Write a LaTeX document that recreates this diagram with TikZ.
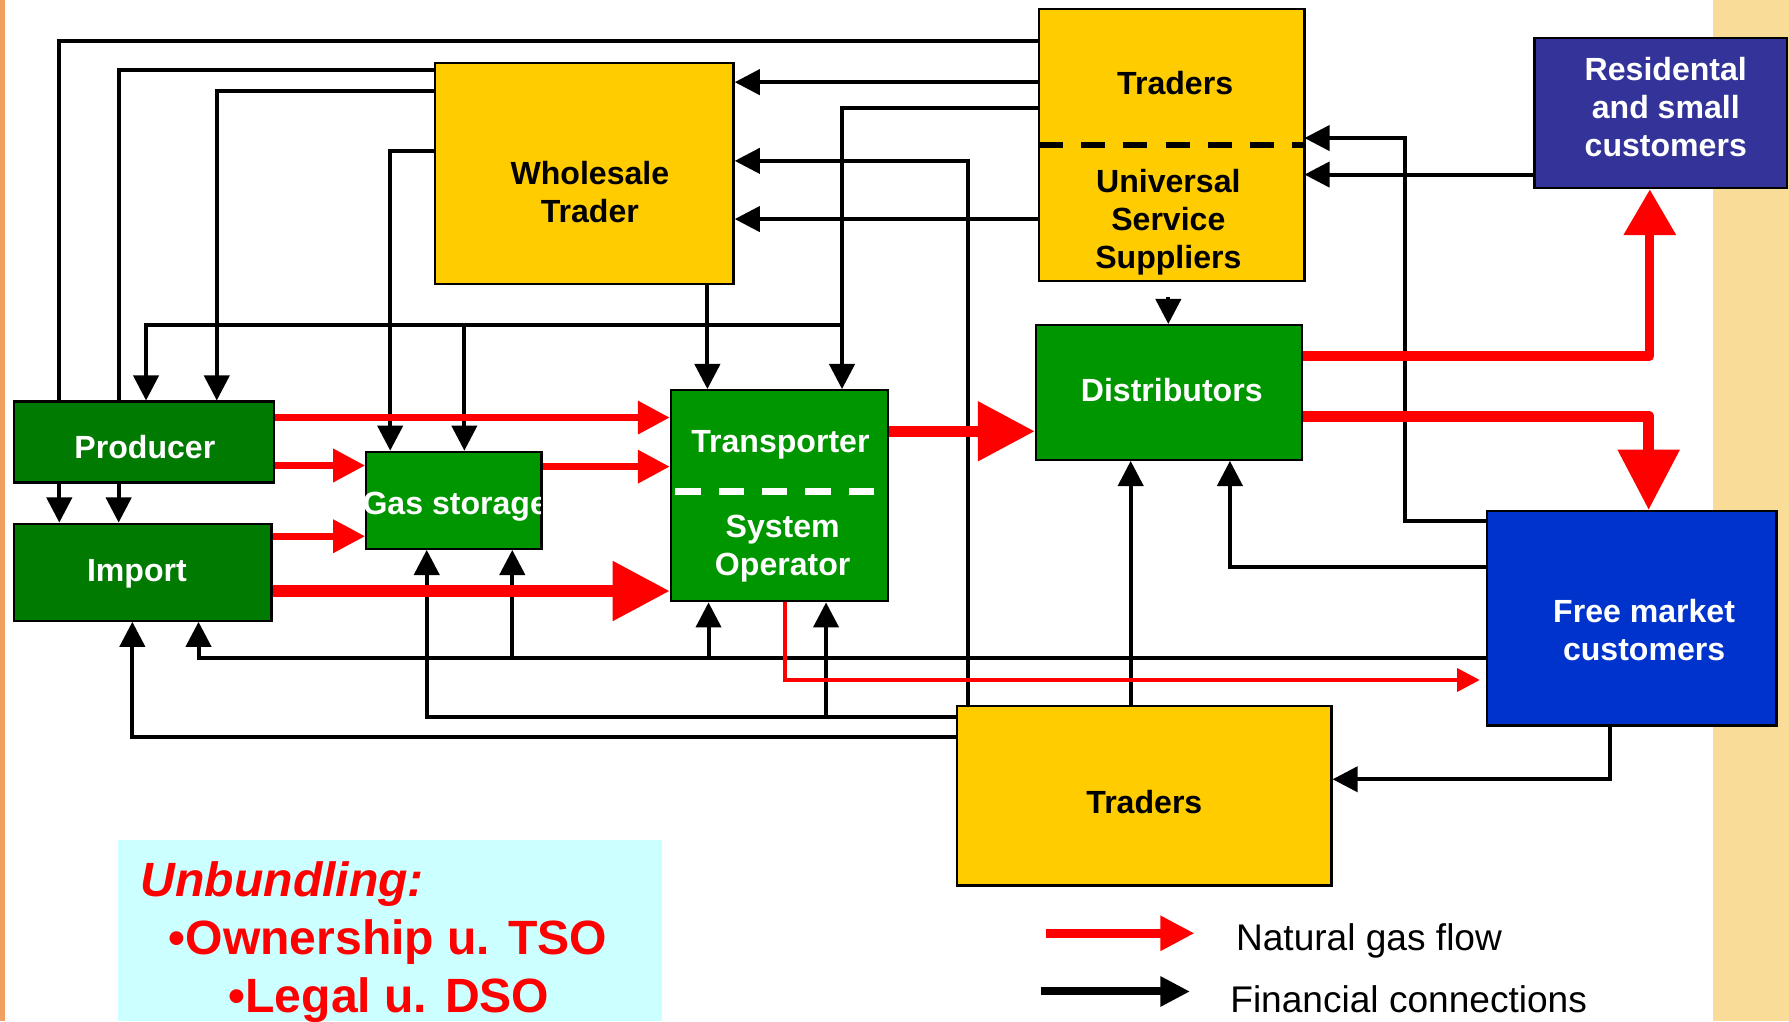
\documentclass[tikz,border=0pt]{standalone}
\usepackage{fontspec}
\setmainfont{Liberation Sans}
\usetikzlibrary{arrows.meta}

\definecolor{trdyellow}{RGB}{255,204,0}
\definecolor{darkgrn}{RGB}{0,122,0}
\definecolor{midgrn}{RGB}{0,150,0}
\definecolor{resnavy}{RGB}{51,51,153}
\definecolor{fmcblue}{RGB}{0,51,204}
\definecolor{ubcyan}{RGB}{204,255,255}
\definecolor{stripeorange}{RGB}{240,160,96}
\definecolor{stripebeige}{RGB}{248,220,152}

\pgfdeclarelayer{back}
\pgfdeclarelayer{wires}
\pgfsetlayers{back,wires,main}

\tikzset{
	box/.style={draw=black, line width=0.04cm, inner sep=0pt},
	boxfill/.style={inner sep=0pt},
	lblk/.style={font=\bfseries\fontsize{16}{19}\selectfont, align=center, inner sep=0pt},
	lwht/.style={lblk, text=white},
	fincon/.style={line width=0.07cm, -{Triangle[length=0.44cm,width=0.44cm]}},
	gasflow/.style={red, line width=0.12cm, -{Triangle[length=0.56cm,width=0.56cm]}},
	gasbig/.style={red, line width=0.2cm, -{Triangle[length=1cm,width=1cm]}},
	gasres/.style={red, line width=0.16cm, line join=round, -{Triangle[length=0.8cm,width=0.88cm]}},
	gasfmc/.style={red, line width=0.2cm, line join=round, -{Triangle[length=1.06cm,width=1.04cm]}},
	gasthin/.style={red, line width=0.08cm, -{Triangle[length=0.4cm,width=0.4cm]}},
	ubtext/.style={red, font=\bfseries\fontsize{24}{28}\selectfont, inner sep=0pt},
	lgtext/.style={font=\fontsize{18.5}{22}\selectfont, inner sep=0pt, anchor=base west}
}

\begin{document}
\begin{tikzpicture}[x=0.02cm, y=-0.02cm]
			%%%%% START %%%%%
			\useasboundingbox (0,0) rectangle (1568,895);
			\begin{pgfonlayer}{back}
				\fill[white] (0,0) rectangle (1568,895);
				\fill[stripeorange] (0,0) rectangle (4,895);
				\fill[stripebeige] (1501,0) rectangle (1568,895);
			\end{pgfonlayer}
			
			% boxes
			\node[boxfill, fill=trdyellow, minimum width=4.64cm, minimum height=2.38cm] (tra) at (1027,67.5) {};
			\node[boxfill, fill=trdyellow, minimum width=4.64cm, minimum height=2.38cm] (uss) at (1027,186.5) {};
			\draw[line width=0.04cm] (tra.north west) rectangle (uss.south east);
			\draw[line width=0.1cm, dash pattern=on 0.42cm off 0.32cm] (tra.south west) -- (tra.south east);
			\node[lblk] (tra-l) at (1030,73) {Traders};
			\node[lblk] (uss-l) at (1024,195) {Universal\\Service\\Suppliers};
			
			\node[box, fill=resnavy, minimum width=4.42cm, minimum height=2.64cm] (res) at (1455.5,99) {};
			\node[lwht] (res-l) at (1460,94) {Residental\\and small\\customers};
			
			\node[box, fill=trdyellow, minimum width=5.24cm, minimum height=3.88cm] (whs) at (512,152) {};
			\node[lblk] (whs-l) at (517,168) {Wholesale\\Trader};
			
			\node[box, fill=midgrn, minimum width=4.66cm, minimum height=2.36cm] (dis) at (1024.5,344) {};
			\node[lwht] (dis-l) at (1027,342) {Distributors};
			
			\node[box, fill=darkgrn, minimum width=4.56cm, minimum height=1.42cm] (pro) at (126,387.5) {};
			\node[lwht] (pro-l) at (127,392) {Producer};
			
			\node[box, fill=darkgrn, minimum width=4.52cm, minimum height=1.7cm] (imp) at (125,501.5) {};
			\node[lwht] (imp-l) at (120,503) {Import};
			
			\node[box, fill=midgrn, minimum width=3.06cm, minimum height=1.7cm] (gas) at (397.5,438.5) {};
			\node[lwht] (gas-l) at (399,444) {Gas storage};
			\draw[line width=0.04cm] (gas.north east) -- (gas.south east);
			
			\node[box, fill=midgrn, minimum width=3.8cm, minimum height=3.7cm] (tso) at (683,434.5) {};
			\node[lwht] (tso-l1) at (684,390) {Transporter};
			\node[lwht] (tso-l2) at (686,480.5) {System\\Operator};
			\draw[white, line width=0.12cm, dash pattern=on 0.44cm off 0.32cm] (592,431) -- (768,431);
			
			\node[box, fill=fmcblue, minimum width=5.08cm, minimum height=3.76cm] (fmc) at (1430,542) {};
			\node[lwht] (fmc-l) at (1441,552) {Free market\\customers};
			
			\node[box, fill=trdyellow, minimum width=6.56cm, minimum height=3.14cm] (trb) at (1003,697.5) {};
			\node[lblk] (trb-l) at (1003,703) {Traders};
			
			% unbundling note
			\node[boxfill, fill=ubcyan, minimum width=9.54cm, minimum height=3.18cm] (ubx) at (341.5,815.5) {};
			\node[ubtext, font=\bfseries\itshape\fontsize{24}{28}\selectfont, anchor=base west] (ub-t) at (123,786) {Unbundling:};
			\node[ubtext, anchor=base] (ub-1) at (340,837) {•Ownership u. TSO};
			\node[ubtext, anchor=base] (ub-2) at (341,887) {•Legal u. DSO};
			
			% junctions
			\coordinate (jtop) at (738,285);
			\coordinate (jgas) at (407,285);
			\coordinate (jfg) at (449,577);
			\coordinate (jft) at (621,577);
			\coordinate (jtt) at (724,628);
			\coordinate (ussd) at (1024,260);
			
			\begin{pgfonlayer}{wires}
				% financial connections
				\draw[fincon] (tra.west |- 0,36) -| (52,0 |- imp.north);
				\draw[fincon] (whs.west |- 0,61) -| (104,0 |- imp.north);
				\draw[fincon] (whs.west |- 0,80) -| (190,0 |- pro.north);
				\draw[fincon] (whs.west |- 0,132) -| (342,0 |- gas.north);
				\draw[fincon] (whs.south -| 620,0) -- (tso.north -| 620,0);
				\draw[fincon] (tra.west |- 0,72) -- (whs.east |- 0,72);
				\draw[fincon] (tra.west |- 0,95) -| (tso.north -| 738,0);
				\draw[fincon] (jtop) -| (128,0 |- pro.north);
				\draw[fincon] (jgas) -- (gas.north -| jgas);
				\draw[fincon] (trb.north -| 848,0) |- (whs.east |- 0,141);
				\draw[fincon] (uss.west |- 0,192) -- (whs.east |- 0,192);
				\draw[fincon] (ussd) -- (dis.north -| ussd);
				\draw[fincon] (res.west |- 0,153) -- (uss.east |- 0,153);
				\draw[fincon] (fmc.west |- 0,457) -| (1231,121) -- (tra.east |- 0,121);
				\draw[fincon] (fmc.west |- 0,497) -| (1078,0 |- dis.south);
				\draw[fincon] (fmc.west |- 0,577) -| (174,0 |- imp.south);
				\draw[fincon] (jfg) -- (gas.south -| jfg);
				\draw[fincon] (jft) -- (tso.south -| jft);
				\draw[fincon] (trb.west |- 0,628) -| (374,0 |- gas.south);
				\draw[fincon] (jtt) -- (tso.south -| jtt);
				\draw[fincon] (trb.west |- 0,646) -| (116,0 |- imp.south);
				\draw[fincon] (trb.north -| 991,0) -- (dis.south -| 991,0);
				\draw[fincon] (fmc.south -| 1411,0) |- (trb.east |- 0,683);
				
				% natural gas flow
				\draw[gasflow] (pro.east |- 0,366) -- (tso.west |- 0,366);
				\draw[gasflow] (pro.east |- 0,408) -- (gas.west |- 0,408);
				\draw[gasflow] (gas.east |- 0,409) -- (tso.west |- 0,409);
				\draw[gasflow] (imp.east |- 0,470) -- (gas.west |- 0,470);
				\draw[gasbig] (imp.east |- 0,518) -- (tso.west |- 0,518);
				\draw[gasbig] (tso.east |- 0,378) -- (dis.west |- 0,378);
				\draw[gasres] (dis.east |- 0,312) -| (1446,0 |- res.south);
				\draw[gasfmc] (dis.east |- 0,365) -| (1445,0 |- fmc.north);
				\draw[gasthin, shorten >=0.1cm] (tso.south -| 688,0) |- (fmc.west |- 0,596);
			\end{pgfonlayer}
			
			% legend
			\coordinate (lgr-a) at (917,818);
			\coordinate (lgr-b) at (1047,818);
			\coordinate (lgk-a) at (912,869);
			\coordinate (lgk-b) at (1043,869);
			\draw[red, line width=0.15cm, -{Triangle[length=0.6cm,width=0.58cm]}] (lgr-a) -- (lgr-b);
			\draw[line width=0.14cm, -{Triangle[length=0.52cm,width=0.5cm]}] (lgk-a) -- (lgk-b);
			\node[lgtext] (lg-1) at (1083,833) {Natural gas flow};
			\node[lgtext] (lg-2) at (1078,887) {Financial connections};
			%%%%% END %%%%%
\end{tikzpicture}
\end{document}
